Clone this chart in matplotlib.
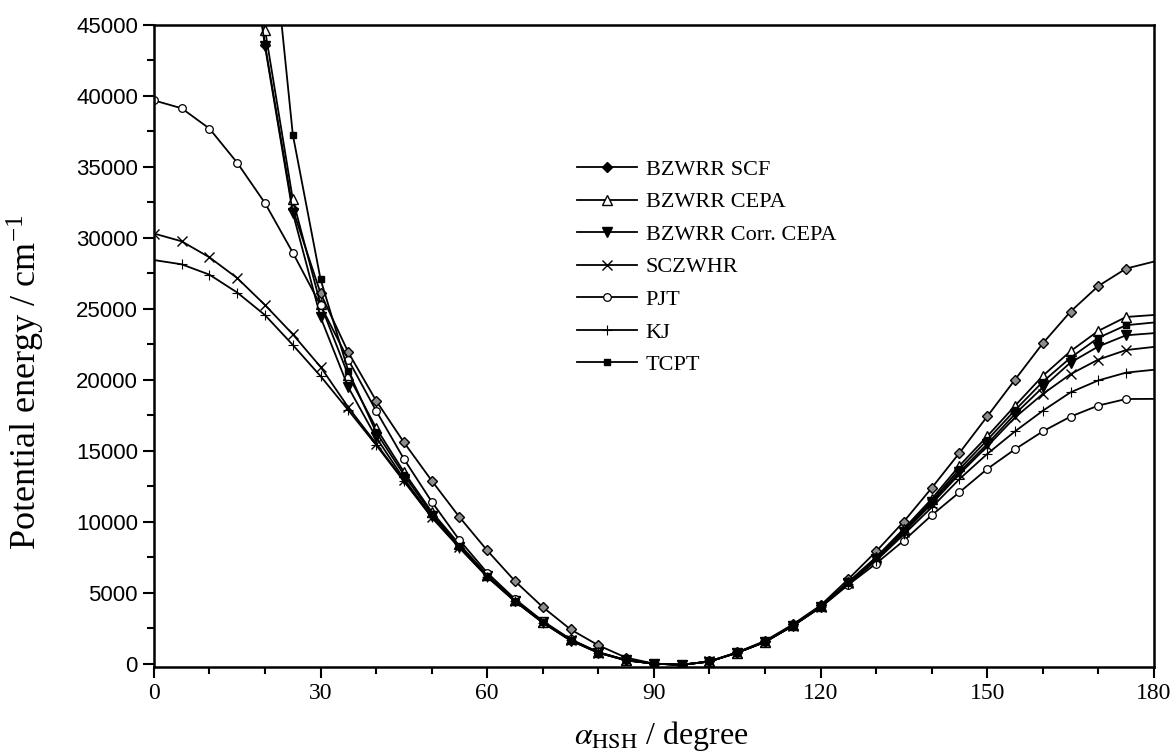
import numpy as np
import matplotlib
matplotlib.use('Agg')
import matplotlib.pyplot as plt
from matplotlib.ticker import MultipleLocator

plt.rcParams['mathtext.fontset'] = 'stix'

# angles (degree); steep curves start off the top of the chart
angle = list(range(0, 181, 5))
angle_15 = list(range(15, 181, 5))
angle_20 = list(range(20, 181, 5))

# potential energies / cm^-1
bzwrr_scf = [58000, 43600, 32000, 26090, 21920, 18520, 15590, 12890, 10320, 7970,
             5810, 3980, 2410, 1290, 420, 0, -100, 160, 800, 1600, 2760, 4100,
             5950, 7900, 10010, 12370, 14840, 17410, 20000, 22560, 24800, 26600,
             27830, 28320]
bzwrr_cepa = [59000, 44660, 32700, 25300, 20300, 16600, 13500, 10700, 8400, 6250,
              4450, 2950, 1700, 800, 250, 0, -80, 150, 780, 1550, 2700, 4050,
              5750, 7500, 9500, 11600, 13940, 16010, 18160, 20270, 22010, 23440,
              24420, 24560]
bzwrr_corr = [57000, 43480, 31760, 24400, 19460, 15940, 13010, 10400, 8200, 6150,
              4400, 2900, 1620, 760, 220, 0, -90, 140, 760, 1520, 2660, 3980,
              5650, 7350, 9300, 11350, 13500, 15470, 17580, 19460, 21210, 22340,
              23130, 23280]
tcpt = [56600, 37270, 27070, 20600, 16300, 13300, 10550, 8300, 6200, 4420, 2920,
        1650, 780, 230, 0, -90, 150, 770, 1540, 2680, 4000, 5700, 7420, 9400,
        11450, 13700, 15750, 17850, 19850, 21550, 22950, 23840, 24030]
sczwhr = [30300, 29750, 28620, 27160, 25260, 23200, 20900, 18050, 15500, 12900,
          10350, 8200, 6150, 4400, 2900, 1650, 780, 240, 0, -80, 150, 770, 1540,
          2680, 4000, 5650, 7350, 9250, 11250, 13350, 15300, 17340, 18990, 20390,
          21420, 22090, 22310]
pjt = [39680, 39120, 37690, 35280, 32440, 28950, 25240, 21400, 17810, 14420,
       11410, 8700, 6400, 4550, 3000, 1720, 810, 250, 0, -80, 150, 760, 1520,
       2650, 3960, 5550, 7050, 8670, 10450, 12070, 13710, 15100, 16360, 17400,
       18180, 18640, 18650]
kj = [28430, 28130, 27400, 26140, 24550, 22450, 20250, 17850, 15400, 12850,
      10300, 8150, 6100, 4380, 2880, 1640, 770, 230, 0, -80, 150, 770, 1530,
      2670, 3980, 5600, 7250, 9100, 11000, 13000, 14770, 16360, 17810, 19110,
      19950, 20500, 20700]

labels = ['BZWRR SCF', 'BZWRR CEPA', 'BZWRR Corr. CEPA', 'SCZWHR', 'PJT', 'KJ', 'TCPT']

fig = plt.figure(figsize=(11.75, 7.53), dpi=100)
ax = fig.add_axes([0.131, 0.114, 0.851, 0.853])

lw = 1.3
def draw(x, y, **kw):
    n = len(x)
    ax.plot(x, y, color='k', lw=lw, markevery=slice(0, n - 1), clip_on=True, **kw)

draw(angle_15, bzwrr_scf, marker='D', ms=5.5, mfc='#8c8c8c', mec='k', mew=1.0, label=labels[0])
draw(angle_15, bzwrr_cepa, marker='^', ms=6.5, mfc='white', mec='k', mew=1.0, label=labels[1])
draw(angle_15, bzwrr_corr, marker='v', ms=6.5, mfc='k', mec='k', label=labels[2])
draw(angle, sczwhr, marker='x', ms=6.5, mec='k', mew=1.0, label=labels[3])
draw(angle, pjt, marker='o', ms=5.5, mfc='white', mec='k', mew=0.9, label=labels[4])
draw(angle, kj, marker='+', ms=7, mec='k', mew=0.8, label=labels[5])
draw(angle_20, tcpt, marker='s', ms=4.5, mfc='k', mec='k', label=labels[6])

ax.set_xlim(0, 180)
ax.set_ylim(-250, 45000)
ax.xaxis.set_major_locator(MultipleLocator(30))
ax.xaxis.set_minor_locator(MultipleLocator(10))
ax.yaxis.set_major_locator(MultipleLocator(5000))
ax.yaxis.set_minor_locator(MultipleLocator(2500))
ax.tick_params(which='both', direction='out', top=False, right=False, width=1.5)
ax.tick_params(which='major', length=8)
ax.tick_params(which='minor', length=5)
for s in ax.spines.values():
    s.set_linewidth(1.8)

for t in ax.get_xticklabels():
    t.set_fontfamily('Liberation Serif')
    t.set_fontsize(17)
for t in ax.get_yticklabels():
    t.set_fontfamily('Liberation Sans')
    t.set_fontsize(16)

ax.set_ylabel('Potential energy / cm$^{\\mathregular{-1}}$', family='Liberation Serif',
              fontsize=26)
ax.yaxis.set_label_coords(-0.108, 0.444)
ax.set_xlabel('$\\alpha_{\\mathrm{HSH}}$ / degree', family='Liberation Serif',
              fontsize=23)
ax.xaxis.set_label_coords(0.508, -0.08)

leg = ax.legend(loc='upper left', bbox_to_anchor=(0.403, 0.822), frameon=False,
                prop={'family': 'Liberation Serif', 'size': 16},
                handlelength=2.7, handletextpad=0.4, labelspacing=0.54)
leg.legend_handles[0].set_markerfacecolor('k')

fig.savefig('out.png', dpi=100)
